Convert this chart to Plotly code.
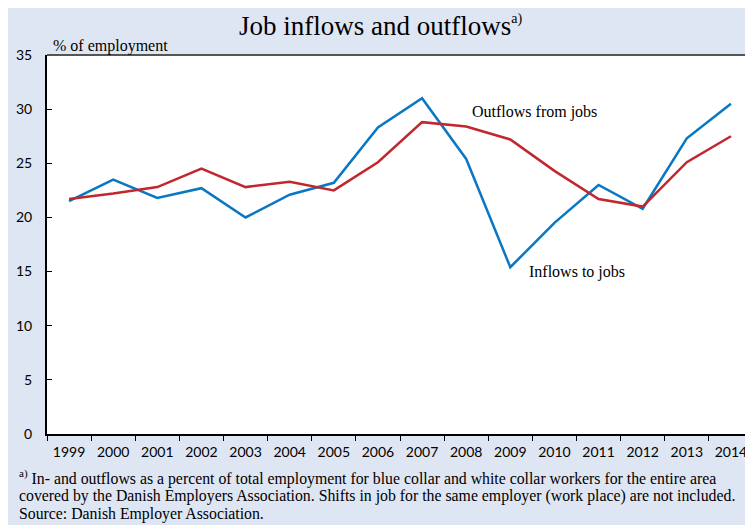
import plotly.graph_objects as go

years = [str(y) for y in range(1999, 2015)]
inflows = [21.5, 23.5, 21.8, 22.7, 20.0, 22.1, 23.2, 28.3, 31.0, 25.4, 15.4, 19.5, 23.0, 20.8, 27.3, 30.5]
outflows = [21.7, 22.2, 22.8, 24.5, 22.8, 23.3, 22.5, 25.1, 28.8, 28.4, 27.2, 24.3, 21.7, 21.0, 25.1, 27.5]
footnote = [
    "<sup>a)</sup> In- and outflows as a percent of total employment for blue collar and white collar workers for the entire area",
    "covered by the Danish Employers Association. Shifts in job for the same employer (work place) are not included.",
    "Source: Danish Employer Association.",
]

serif = "Liberation Serif, Times New Roman, serif"
sans = "Lato, Open Sans, sans-serif"
bg = "#dfe6f3"

fig = go.Figure()
fig.add_trace(go.Scatter(x=years, y=inflows, mode="lines", name="Inflows to jobs",
                         line=dict(color="#0a77c2", width=2.5)))
fig.add_trace(go.Scatter(x=years, y=outflows, mode="lines", name="Outflows from jobs",
                         line=dict(color="#c1272d", width=2.5)))

# page body adds an 8px offset, so the figure is 8px smaller than the window
fig.update_layout(
    width=745, height=517,
    margin=dict(l=39, r=0, t=47, b=91),
    paper_bgcolor=bg, plot_bgcolor="white",
    showlegend=False,
    title=dict(text="Job inflows and outflows<sup><span style='font-size:14px'>a)</span></sup>",
               x=0.5, xanchor="center", y=0.967, yanchor="middle",
               font=dict(family=serif, size=27, color="black")),
)
fig.update_xaxes(type="category", range=[-0.5, 15.5], tickson="boundaries", automargin=False,
                 ticks="outside", ticklen=5, tickcolor="black", showline=True,
                 linecolor="black", linewidth=2, showgrid=False, ticklabelstandoff=4,
                 tickfont=dict(family=sans, size=14, color="black"))
fig.update_yaxes(range=[0, 35], dtick=5, ticks="inside", ticklen=5, tickcolor="black",
                 showline=True, linecolor="black", linewidth=2, showgrid=False,
                 zeroline=False, ticklabelstandoff=10, automargin=False,
                 tickfont=dict(family=sans, size=14, color="black"))

# top frame line of the plot area
fig.add_shape(type="line", xref="paper", yref="paper", x0=0, x1=1, y0=1, y1=1,
              line=dict(color="#555555", width=2))

fig.add_annotation(text="% of employment", xref="paper", yref="paper", x=0.005, y=1.0,
                   xanchor="left", yanchor="bottom", yshift=-2, showarrow=False,
                   font=dict(family=serif, size=16, color="black"))
fig.add_annotation(text="Outflows from jobs", x=10.54, y=29.7, xanchor="center", showarrow=False,
                   font=dict(family=serif, size=16, color="black"))
fig.add_annotation(text="Inflows to jobs", x=11.51, y=15.0, xanchor="center", showarrow=False,
                   font=dict(family=serif, size=16, color="black"))

for i, line in enumerate(footnote):
    fig.add_annotation(text=line, xref="paper", yref="paper", x=-0.0425, y=-0.1135 - 0.049 * i,
                       xanchor="left", yanchor="middle", align="left", showarrow=False,
                       font=dict(family=serif, size=15.8, color="black"))

fig.write_html("out.html")
